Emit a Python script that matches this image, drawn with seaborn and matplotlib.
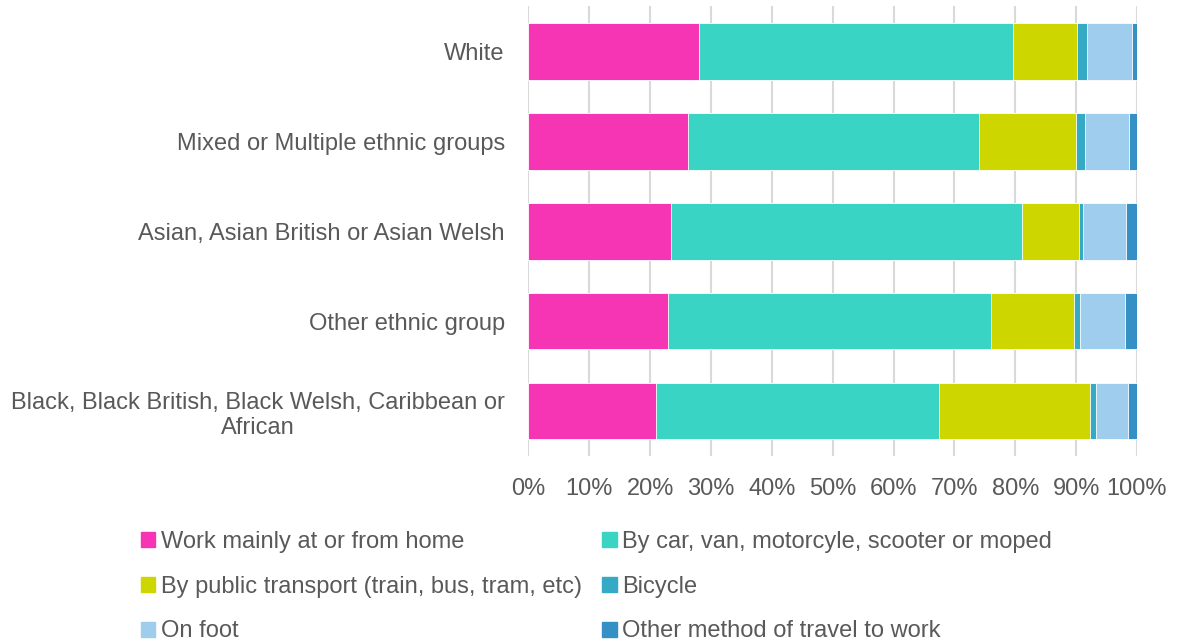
import numpy as np
import pandas as pd
import matplotlib
matplotlib.use("Agg")
import matplotlib.pyplot as plt
import seaborn as sns
from matplotlib.patches import Patch

groups = ["White",
          "Mixed or Multiple ethnic groups",
          "Asian, Asian British or Asian Welsh",
          "Other ethnic group",
          "Black, Black British, Black Welsh, Caribbean or\nAfrican"]

home = [28.0, 26.2, 23.5, 23.0, 20.9]
car = [51.6, 47.8, 57.6, 53.0, 46.6]
public = [10.5, 15.9, 9.4, 13.6, 24.7]
bicycle = [1.7, 1.6, 0.6, 1.1, 1.0]
foot = [7.4, 7.2, 7.1, 7.4, 5.4]
other = [0.8, 1.3, 1.8, 1.9, 1.4]

series = ["Work mainly at or from home",
          "By car, van, motorcyle, scooter or moped",
          "By public transport (train, bus, tram, etc)",
          "Bicycle",
          "On foot",
          "Other method of travel to work"]
colors = ["#F535B3", "#3AD4C4", "#CED600", "#36A9C4", "#9ECDEE", "#3590C6"]

df = pd.DataFrame(dict(zip(series, [home, car, public, bicycle, foot, other])))
df["group"] = groups
cum = df[series].cumsum(axis=1)
cum["group"] = groups

sns.set_style("white")
plt.rcParams["font.family"] = ["Liberation Sans", "DejaVu Sans"]
grey = "#595959"
fs = 17

fig = plt.figure(figsize=(11.77, 6.44), dpi=100)
ax = fig.add_axes([0.449, 0.292, 0.517, 0.698])

# draw cumulative bars from the widest to the narrowest so they stack
for s, c in reversed(list(zip(series, colors))):
    sns.barplot(data=cum, x=s, y="group", order=groups, color=c, orient="h",
                width=0.63, saturation=1, edgecolor="white", linewidth=0.6,
                ax=ax, zorder=3)

ax.set_xlim(0, 100)
ax.set_xticks(np.arange(0, 101, 10))
ax.set_xticklabels([f"{v}%" for v in range(0, 101, 10)])
ax.grid(axis="x", color="#D9D9D9", linewidth=1.5, zorder=0)
ax.set_axisbelow(True)
for sp in ax.spines.values():
    sp.set_visible(False)
ax.set_xlabel("")
ax.set_ylabel("")
ax.tick_params(axis="both", length=0, labelsize=fs, colors=grey)
ax.tick_params(axis="y", pad=17)
ax.tick_params(axis="x", pad=16)
for lab in ax.get_yticklabels():
    lab.set_multialignment("center")

handles = [Patch(color=c) for c in colors]
order = [0, 2, 4, 1, 3, 5]
fig.legend([handles[i] for i in order], [series[i] for i in order],
           ncol=2, loc="upper left", bbox_to_anchor=(0.112, 0.19),
           frameon=False, fontsize=fs, labelcolor=grey,
           handlelength=0.6, handleheight=0.6, handletextpad=0.25,
           columnspacing=0.85, labelspacing=0.96, borderaxespad=0)

fig.savefig("out.png", dpi=100)
